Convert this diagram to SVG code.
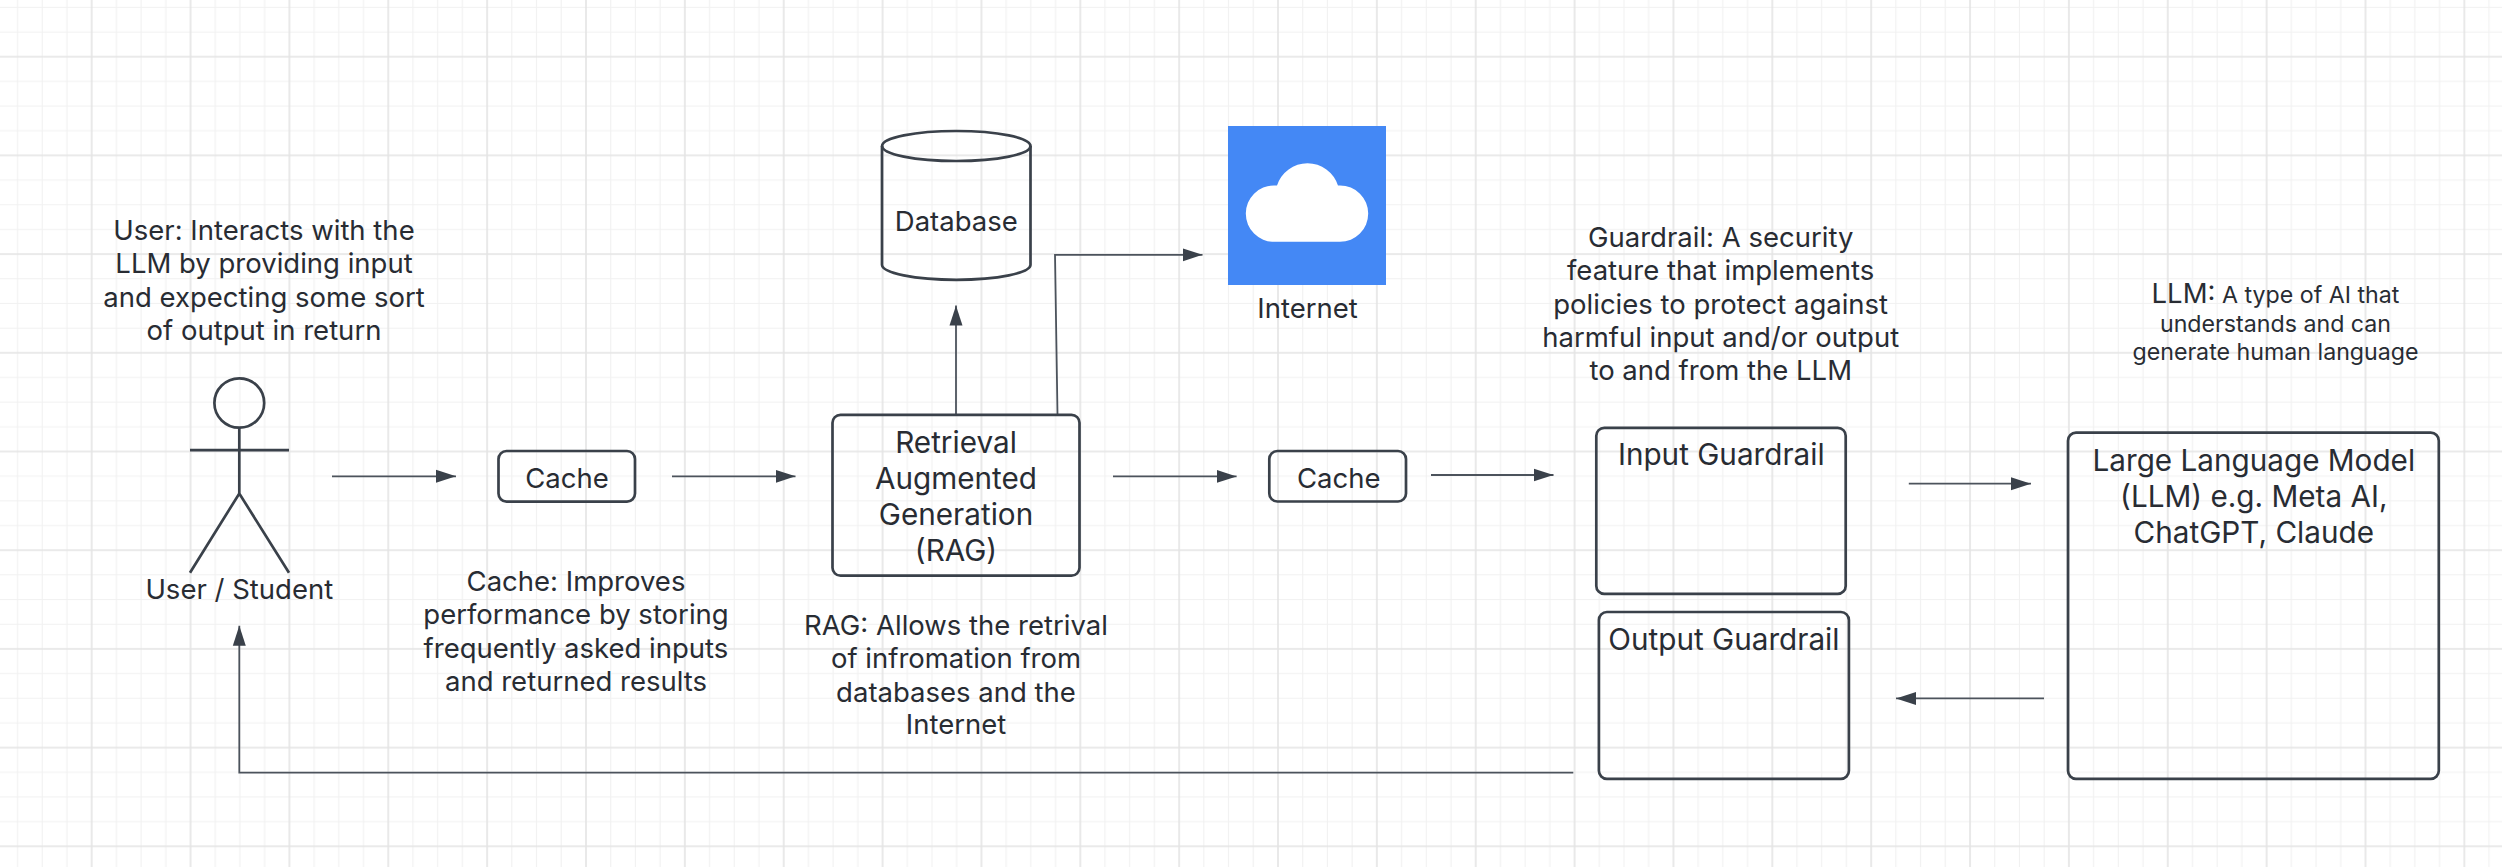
<svg xmlns="http://www.w3.org/2000/svg" width="2502" height="867" viewBox="0 0 2502 867">
<style>
.t{font-family:Inter,"Noto Sans","Liberation Sans",sans-serif;font-size:27.5px;fill:#282c33;text-anchor:middle}
.b{font-size:29.7px}
.s{font-size:23.2px}
.n{fill:none;stroke:#3a414a;stroke-width:2.7}
.c{fill:none;stroke:#4c535c;stroke-width:1.8;marker-end:url(#ah)}
</style>
<defs>
<marker id="ah" markerUnits="userSpaceOnUse" markerWidth="20" markerHeight="14" viewBox="0 0 20 14" refX="20" refY="7" orient="auto"><path d="M0 .5L20 7L0 13.5z" fill="#3a414a"/></marker>
<pattern id="grid" patternUnits="userSpaceOnUse" x="91.7" y="56.7" width="98.86" height="98.7">
<path d="M24.7 0V98.7M49.4 0V98.7M74.1 0V98.7M0 24.7H98.86M0 49.35H98.86M0 74H98.86" stroke="#f1f1f1" stroke-width="1.1" fill="none"/>
<path d="M0 0V98.7M98.86 0V98.7M0 0H98.86M0 98.7H98.86" stroke="#e4e4e4" stroke-width="1.6" fill="none"/>
</pattern>
</defs>
<rect width="2502" height="867" fill="#fff"/>
<rect id="grid-bg" width="2502" height="867" fill="url(#grid)"/>
<g id="connectors">
<path class="c" d="M332 476.3H456"/>
<path class="c" d="M672 476.3H795.5"/>
<path class="c" d="M956 414.8V305.6"/>
<path class="c" d="M1057.5 414.8L1055 254.8H1202.5"/>
<path class="c" d="M1113 476.4H1236.6"/>
<path class="c" d="M1431 475H1553.5"/>
<path class="c" d="M1908.8 483.7H2031"/>
<path class="c" d="M2044 698.4H1896"/>
<path class="c" d="M1573.3 772.7H239.3V625.7"/>
</g>
<g id="user">
<ellipse class="n" cx="239.3" cy="403" rx="24.9" ry="24.7"/>
<path class="n" d="M239.3 427.7V493.5M190 450.2H289M190 572.7L239.3 493.5L289 572.7"/>
<text class="t" x="239.3" y="599">User / Student</text>
</g>
<g id="user-note"><text class="t" x="264" y="240">User: Interacts with the</text><text class="t" x="264" y="273">LLM by providing input</text><text class="t" x="264" y="306.5">and expecting some sort</text><text class="t" x="264" y="339.6">of output in return</text></g>
<g id="cache1"><rect class="n" x="498.5" y="451" width="136.5" height="50.6" rx="8"/><text class="t" x="567" y="488">Cache</text></g>
<g id="cache-note"><text class="t" x="576" y="591">Cache: Improves</text><text class="t" x="576" y="624">performance by storing</text><text class="t" x="576" y="657.6">frequently asked inputs</text><text class="t" x="576" y="691">and returned results</text></g>
<g id="rag"><rect class="n" x="832.5" y="414.8" width="247" height="160.9" rx="8"/><text class="t b" x="956" y="453.4">Retrieval</text><text class="t b" x="956" y="489">Augmented</text><text class="t b" x="956" y="525">Generation</text><text class="t b" x="956" y="560.5">(RAG)</text></g>
<g id="rag-note"><text class="t" x="956" y="634.7">RAG: Allows the retrival</text><text class="t" x="956" y="668">of infromation from</text><text class="t" x="956" y="701.5">databases and the</text><text class="t" x="956" y="734.4">Internet</text></g>
<g id="database"><path class="n" d="M882 146V264.8C882 273 915 279.8 956.3 279.8S1030.5 273 1030.5 264.8V146"/><ellipse class="n" cx="956.3" cy="146" rx="74.2" ry="15"/><text class="t" x="956.3" y="231">Database</text></g>
<g id="internet"><rect x="1228" y="126" width="158" height="159" fill="#4488f5"/><path fill="#fff" d="M1274 241.8A28.2 28.2 0 0 1 1274 185.4Q1276 185.4 1277 185.6A32 32 0 0 1 1338 185.6Q1339 185.4 1340 185.4A28.2 28.2 0 0 1 1340 241.8Z"/><text class="t" x="1307.5" y="317.7">Internet</text></g>
<g id="cache2"><rect class="n" x="1269.3" y="451" width="136.7" height="50.5" rx="8"/><text class="t" x="1338.7" y="488">Cache</text></g>
<g id="guardrail-note"><text class="t" x="1720.7" y="247">Guardrail: A security</text><text class="t" x="1720.7" y="280">feature that implements</text><text class="t" x="1720.7" y="313.5">policies to protect against</text><text class="t" x="1720.7" y="346.5">harmful input and/or output</text><text class="t" x="1720.7" y="380">to and from the LLM</text></g>
<g id="input-guardrail"><rect class="n" x="1596.3" y="427.8" width="249.4" height="166.1" rx="8"/><text class="t b" x="1721.3" y="465.3">Input Guardrail</text></g>
<g id="output-guardrail"><rect class="n" x="1598.9" y="612" width="250" height="166.8" rx="8"/><text class="t b" x="1723.9" y="650">Output Guardrail</text></g>
<g id="llm"><rect class="n" x="2068" y="432.7" width="370.8" height="346.1" rx="8"/><text class="t b" x="2253.8" y="471.4">Large Language Model</text><text class="t b" x="2253.8" y="507.3">(LLM) e.g. Meta AI,</text><text class="t b" x="2253.8" y="542.9">ChatGPT, Claude</text></g>
<g id="llm-note"><text class="t s" x="2275.5" y="302.9"><tspan style="font-size:27.5px">LLM:</tspan> A type of AI that</text><text class="t s" x="2275.5" y="331.8">understands and can</text><text class="t s" x="2275.5" y="360">generate human language</text></g>
</svg>
